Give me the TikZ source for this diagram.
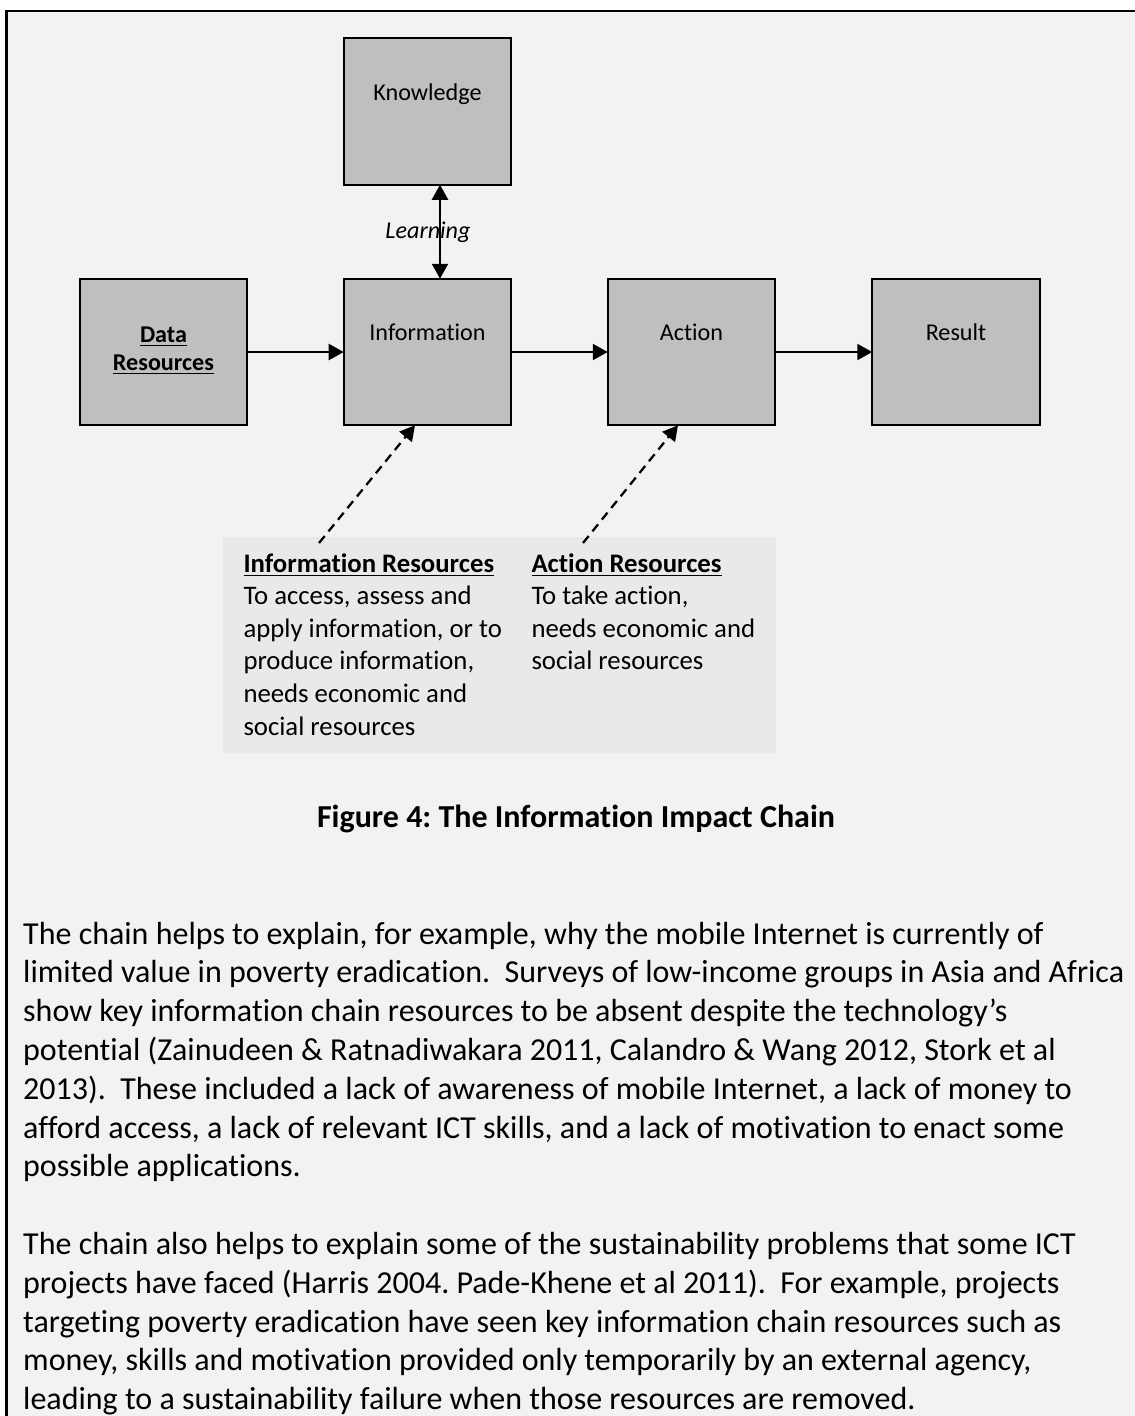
\documentclass[tikz,border=0pt]{standalone}
\usepackage{fontspec}
\setmainfont{Carlito}[Ligatures=NoCommon]
\usetikzlibrary{arrows.meta,calc}
\definecolor{bgc}{HTML}{F2F2F2}
\definecolor{boxc}{HTML}{BFBFBF}
\definecolor{panc}{HTML}{E9E9E9}
\newcommand\dfont{\fontsize{9.65pt}{11.2pt}\selectfont}
\newcommand\pfont{\fontsize{10.7pt}{13.04pt}\selectfont}
\newcommand\bfont{\fontsize{12.8pt}{15.52pt}\selectfont}
\frenchspacing
\begin{document}
\begin{tikzpicture}[x=0.4pt,y=-0.4pt,
  box/.style={draw=black,line width=0.9pt,fill=boxc,minimum width=67pt,minimum height=58.6pt,inner sep=0pt,outer sep=0pt},
  panel/.style={fill=panc,minimum width=221.2pt,minimum height=86.4pt,inner sep=0pt,outer sep=0pt},
  lbl/.style={anchor=base,inner sep=0pt,font=\dfont},
  arr/.style={line width=0.9pt,-{Triangle[length=6pt,width=6.4pt]}},
  dblarr/.style={line width=0.9pt,{Triangle[length=6pt,width=6.4pt]}-{Triangle[length=6pt,width=6.4pt]}},
  dasharr/.style={arr,dash pattern=on 3.6pt off 2.4pt}
]
\useasboundingbox (0,0) rectangle (1135,1416);
\clip (0,0) rectangle (1135,1416);
\fill[white] (0,0) rectangle (1135,1416);
\fill[bgc] (6.3,11) rectangle (1140,1420);
\draw[line width=1pt] (6.3,1420) -- (6.3,11) -- (1140,11);

% boxes
\node[box] (know) at (427.5,111.5) {};
\node[box] (data) at (163.5,352) {};
\node[box] (info) at (427.5,352) {};
\node[box] (act)  at (691.5,352) {};
\node[box] (res)  at (956,352) {};

\node[lbl] (knowt) at (427.5,100) {Knowledge};
\node[lbl] (datat) at (163.5,342) {\vtop{\dfont\hbox to 0pt{\hss\textbf{\underline{Data}}\hss}\hbox to 0pt{\hss\textbf{\underline{Resources}}\hss}}};
\node[lbl] (infot) at (427.5,340) {Information};
\node[lbl] (actt)  at (691.5,340) {Action};
\node[lbl] (rest)  at (956,340) {Result};

% learning label under the arrow
\node[lbl,font=\dfont\itshape] (learn) at (428,238) {Learning};

% panel
\node[panel] (pan) at (499.5,645) {};
\node[anchor=base west,inner sep=0pt] (irt) at (243,572) {\vtop{\pfont
  \hbox{\textbf{\underline{Information Resources}}}
  \hbox{To access, assess and}
  \hbox{apply information, or to}
  \hbox{produce information,}
  \hbox{needs economic and}
  \hbox{social resources}}};
\node[anchor=base west,inner sep=0pt] (art) at (531,572) {\vtop{\pfont
  \hbox{\textbf{\underline{Action Resources}}}
  \hbox{To take action,}
  \hbox{needs economic and}
  \hbox{social resources}}};

% connectors
\draw[arr] (data.east) -- (info.west);
\draw[arr] (info.east) -- (act.west);
\draw[arr] (act.east) -- (res.west);
\draw[dblarr] ($(know.south)+(12.5,0)$) -- ($(info.north)+(12.5,0)$);
\coordinate (irs) at (319,543);
\coordinate (ars) at (583,543);
\draw[dasharr] (irs) -- ($(info.south)+(-12.5,0)$);
\draw[dasharr] (ars) -- ($(act.south)+(-13.5,0)$);

% caption
\node[anchor=base,inner sep=0pt,font=\bfont\bfseries] (cap) at (576,827) {Figure 4: The Information Impact Chain};

% body text
\node[anchor=base west,inner sep=0pt] (body) at (22.7,944) {\vtop{\bfont
  \hbox{The chain helps to explain, for example, why the mobile Internet is currently of}
  \hbox{limited value in poverty eradication.\ \ Surveys of low-income groups in Asia and Africa}
  \hbox{show key information chain resources to be absent despite the technology’s}
  \hbox{potential (Zainudeen \& Ratnadiwakara 2011, Calandro \& Wang 2012, Stork et al}
  \hbox{2013).\ \ These included a lack of awareness of mobile Internet, a lack of money to}
  \hbox{afford access, a lack of relevant ICT skills, and a lack of motivation to enact some}
  \hbox{possible applications.}
  \hbox{}
  \hbox{The chain also helps to explain some of the sustainability problems that some ICT}
  \hbox{projects have faced (Harris 2004. Pade-Khene et al 2011).\ \ For example, projects}
  \hbox{targeting poverty eradication have seen key information chain resources such as}
  \hbox{money, skills and motivation provided only temporarily by an external agency,}
  \hbox{leading to a sustainability failure when those resources are removed.}}};
\end{tikzpicture}
\end{document}
